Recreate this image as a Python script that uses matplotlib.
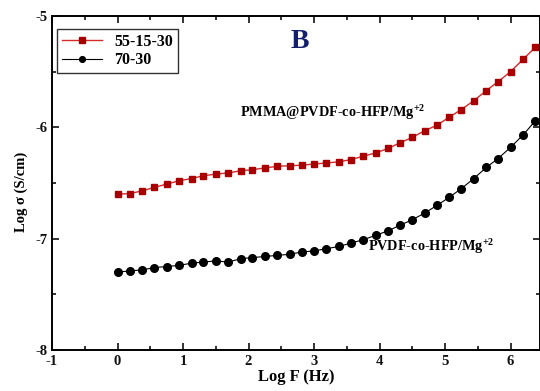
import matplotlib
matplotlib.use("Agg")
import matplotlib.pyplot as plt
from matplotlib.ticker import MultipleLocator

plt.rcParams['font.family'] = ['Liberation Serif', 'DejaVu Serif']
plt.rcParams['font.weight'] = 'bold'
plt.rcParams['mathtext.fontset'] = 'custom'
plt.rcParams['mathtext.rm'] = 'Liberation Serif:bold'
plt.rcParams['axes.unicode_minus'] = False

# log F values (shared by both series)
log_f = [0.0, 0.19, 0.38, 0.56, 0.75, 0.94, 1.13, 1.31, 1.50, 1.69, 1.88, 2.06,
         2.25, 2.44, 2.63, 2.81, 3.00, 3.19, 3.38, 3.56, 3.75, 3.94, 4.13, 4.31,
         4.50, 4.69, 4.88, 5.06, 5.25, 5.44, 5.63, 5.81, 6.00, 6.19, 6.38]

sigma_55_15_30 = [-6.60, -6.595, -6.57, -6.54, -6.51, -6.48, -6.46, -6.435, -6.42,
                  -6.41, -6.39, -6.38, -6.365, -6.35, -6.345, -6.34, -6.33, -6.32,
                  -6.31, -6.29, -6.26, -6.23, -6.19, -6.14, -6.09, -6.03, -5.98,
                  -5.91, -5.84, -5.76, -5.67, -5.59, -5.50, -5.39, -5.28]

sigma_70_30 = [-7.30, -7.29, -7.28, -7.26, -7.25, -7.24, -7.22, -7.21, -7.20,
               -7.21, -7.18, -7.17, -7.16, -7.15, -7.14, -7.12, -7.11, -7.09,
               -7.07, -7.04, -7.01, -6.97, -6.93, -6.88, -6.83, -6.77, -6.70,
               -6.63, -6.55, -6.46, -6.36, -6.28, -6.18, -6.07, -5.94]

fig = plt.figure(figsize=(5.4, 3.91), dpi=100)
ax = fig.add_axes([52 / 540, 41 / 391, 488 / 540, 334 / 391])

ax.plot(log_f, sigma_55_15_30, color='#d42a2a', linewidth=1.0, marker='s',
        markersize=5, markerfacecolor='#a80000', markeredgecolor='#a80000',
        label='55-15-30')
ax.plot(log_f, sigma_70_30, color='black', linewidth=0.8, marker='o',
        markersize=5.5, markerfacecolor='black', markeredgecolor='black',
        label='70-30')

ax.set_xlim(-1, 6.45)
ax.set_ylim(-8, -5)
ax.xaxis.set_major_locator(MultipleLocator(1))
ax.xaxis.set_minor_locator(MultipleLocator(0.5))
ax.yaxis.set_major_locator(MultipleLocator(1))
ax.yaxis.set_minor_locator(MultipleLocator(0.5))
ax.tick_params(which='both', direction='in', top=True, right=True,
               labelsize=10.5, width=1.2, colors='#111111')
ax.tick_params(which='major', length=5)
ax.tick_params(which='minor', length=3)
for s in ax.spines.values():
    s.set_linewidth(1.4)

ax.set_xlabel('Log F (Hz)', fontsize=12, fontweight='bold', labelpad=1)
ax.set_ylabel('Log σ (S/cm)', fontsize=10.5, fontweight='bold')
ax.yaxis.set_label_coords(-0.05, 0.473)

leg = ax.legend(loc='upper left', bbox_to_anchor=(5 / 488, 1 - 13 / 334),
                fontsize=11.5, frameon=True, fancybox=False,
                edgecolor='black', borderpad=0.3, handlelength=2.5,
                labelspacing=0.15, borderaxespad=0, markerscale=0.75)
leg.get_frame().set_linewidth(1.0)

ax.text(2.79, -5.225, 'B', fontsize=20, fontweight='bold', color='#14206e',
        ha='center', va='center')
ax.text(1.87, -5.865, 'PMMA@PVDF-co-HFP/Mg$^{+2}$', fontsize=10.3,
        fontweight='bold', ha='left', va='center')
ax.text(3.82, -7.07, 'PVDF-co-HFP/Mg$^{+2}$', fontsize=10.3,
        fontweight='bold', ha='left', va='center')

fig.savefig('out.png', dpi=100)
